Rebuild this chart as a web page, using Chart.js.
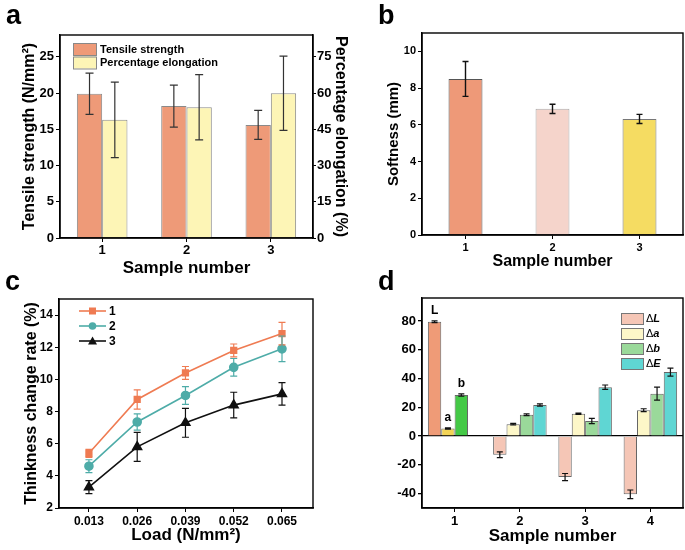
<!DOCTYPE html>
<html>
<head>
<meta charset="utf-8">
<script src="https://cdn.jsdelivr.net/npm/chart.js@4.4.1/dist/chart.umd.min.js"></script>
<style>
  html, body { margin:0; padding:0; background:#fff; }
  #wrap { position:relative; width:685px; height:550px; overflow:hidden; background:#fff; }
  #wrap canvas { position:absolute; left:0; top:0; }
  .letter { position:absolute; font:bold 27px Arial, "Liberation Sans", sans-serif; color:#000; line-height:1; }
</style>
</head>
<body>
<div id="wrap">
  <canvas id="ca" width="685" height="550"></canvas>
  <canvas id="cb" width="685" height="550"></canvas>
  <canvas id="cc" width="685" height="550"></canvas>
  <canvas id="cd" width="685" height="550"></canvas>
  <div class="letter" style="left:6px;top:2px;">a</div>
  <div class="letter" style="left:378px;top:2px;">b</div>
  <div class="letter" style="left:5px;top:268px;">c</div>
  <div class="letter" style="left:378px;top:268px;">d</div>
</div>
<script>
// ---------- DATA ----------
// Panel a
const samplesA = ['1', '2', '3'];
const tensile = [19.9, 18.2, 15.6];
const tensileErr = [2.85, 2.9, 2.0];
const elongation = [48.9, 54.1, 59.9];
const elongationErr = [15.6, 13.5, 15.4];
const ticksA = [0, 5, 10, 15, 20, 25];
const ticksA2 = [0, 15, 30, 45, 60, 75];

// Panel b
const samplesB = ['1', '2', '3'];
const softness = [8.5, 6.87, 6.32];
const softnessErr = [0.95, 0.25, 0.25];
const ticksB = [0, 2, 4, 6, 8, 10];

// Panel c
const loads = [0.013, 0.026, 0.039, 0.052, 0.065];
const thick1 = [5.4, 8.75, 10.4, 11.8, 12.85];
const thick1Err = [0.25, 0.6, 0.4, 0.4, 0.7];
const thick2 = [4.6, 7.35, 9.0, 10.75, 11.9];
const thick2Err = [0.4, 0.5, 0.55, 0.55, 0.8];
const thick3 = [3.3, 5.8, 7.3, 8.4, 9.1];
const thick3Err = [0.4, 0.9, 0.9, 0.8, 0.7];
const ticksC = [2, 4, 6, 8, 10, 12, 14];

// Panel d
const samplesD = ['1', '2', '3', '4'];
const dL = [79.5, -13, -28.5, -40.5];
const dLErr = [0.6, 2, 2.5, 3];
const dA = [5.3, 8.3, 15.5, 18];
const dAErr = [0.4, 0.5, 0.4, 1];
const dB = [28.5, 14.8, 10.5, 29.5];
const dBErr = [0.8, 0.6, 1.8, 4.5];
const dE = [null, 21.6, 34, 44.5];
const dEErr = [0, 0.8, 1.5, 2.8];
const group1Labels = ['L', 'a', 'b'];
const ticksD = [-40, -20, 0, 20, 40, 60, 80];

// ---------- HELPERS ----------
const FONT = 'Arial, "Liberation Sans", sans-serif';
Chart.defaults.font.family = FONT;
Chart.defaults.color = '#000';
Chart.defaults.animation = false;

function fixedTicks(arr) {
  return function (scale) { scale.ticks = arr.map(v => ({ value: v })); };
}
function fixW(w) { return function (scale) { scale.width = w; }; }
function fixH(h) { return function (scale) { scale.height = h; }; }

const framePlugin = {
  id: 'frame',
  afterDraw(chart) {
    const a = chart.chartArea, c = chart.ctx;
    c.save();
    c.strokeStyle = '#000';
    c.lineWidth = 1.4;
    c.strokeRect(a.left, a.top, a.right - a.left, a.bottom - a.top);
    c.restore();
  }
};

const errorBarPlugin = {
  id: 'errorBars',
  afterDatasetsDraw(chart) {
    const c = chart.ctx;
    chart.data.datasets.forEach((ds, di) => {
      if (!ds.errors) return;
      const meta = chart.getDatasetMeta(di);
      const ys = chart.scales[meta.yAxisID];
      const cap = ds.capHalf || 3.5;
      c.save();
      c.strokeStyle = ds.errorColor || '#222';
      c.lineWidth = ds.errorWidth || 1.2;
      meta.data.forEach((el, i) => {
        let v = ds.data[i];
        if (v !== null && typeof v === 'object') v = v.y;
        if (v === null || v === undefined) return;
        const e = ds.errors[i] || 0;
        const x = el.x;
        const yt = ys.getPixelForValue(v + e);
        const yb = ys.getPixelForValue(v - e);
        c.beginPath();
        c.moveTo(x, yt); c.lineTo(x, yb);
        c.moveTo(x - cap, yt); c.lineTo(x + cap, yt);
        c.moveTo(x - cap, yb); c.lineTo(x + cap, yb);
        c.stroke();
      });
      c.restore();
    });
  }
};

function tickFont(size) { return { family: FONT, size: size, weight: 'bold' }; }
function titleFont(size) { return { family: FONT, size: size, weight: 'bold', lineHeight: 1 }; }

// ---------- PANEL A ----------
const legendA = {
  id: 'legendA',
  afterDraw(chart) {
    const c = chart.ctx;
    const rows = chart.data.datasets;
    c.save();
    c.font = 'bold 11px ' + FONT;
    c.textBaseline = 'middle';
    rows.forEach((ds, i) => {
      const y = 43 + i * 13.5;
      c.fillStyle = ds.backgroundColor;
      c.fillRect(73, y, 23, 12);
      c.strokeStyle = '#888';
      c.lineWidth = 1;
      c.strokeRect(73.5, y + 0.5, 23, 12);
      c.fillStyle = '#000';
      c.fillText(ds.label, 100, y + 6.5);
    });
    c.restore();
  }
};

new Chart(document.getElementById('ca'), {
  type: 'bar',
  data: {
    labels: samplesA,
    datasets: [
      { label: 'Tensile strength', data: tensile, errors: tensileErr, yAxisID: 'y',
        backgroundColor: '#ee9a78', borderColor: '#8a8a8a', borderWidth: 1, errorColor: '#333', capHalf: 4 },
      { label: 'Percentage elongation', data: elongation, errors: elongationErr, yAxisID: 'y1',
        backgroundColor: '#fdf5b6', borderColor: '#8a8a8a', borderWidth: 1, errorColor: '#333', capHalf: 4 }
    ]
  },
  options: {
    responsive: false,
    layout: { padding: { left: 0, top: 35, right: 336, bottom: 273 } },
    plugins: { legend: { display: false }, tooltip: { enabled: false } },
    datasets: { bar: { categoryPercentage: 0.6, barPercentage: 1.0 } },
    scales: {
      x: {
        afterFit: fixH(39),
        offset: true,
        grid: { display: true, drawOnChartArea: false, offset: false, tickLength: 4, color: '#000' },
        border: { color: '#000', width: 1.4 },
        ticks: { font: tickFont(13), padding: 1 },
        title: { display: true, text: 'Sample number', font: titleFont(17), padding: { top: 0, bottom: 0.5 } }
      },
      y: {
        position: 'left', min: 0, max: 28,
        afterFit: fixW(60), afterBuildTicks: fixedTicks(ticksA),
        grid: { display: true, drawOnChartArea: false, tickLength: 4, color: '#000' },
        border: { color: '#000', width: 1.4 },
        ticks: { font: tickFont(13), padding: 2 },
        title: { display: true, text: 'Tensile strength (N/mm²)', font: titleFont(16), padding: { top: 22, bottom: 0 } }
      },
      y1: {
        position: 'right', min: 0, max: 84,
        afterFit: fixW(36), afterBuildTicks: fixedTicks(ticksA2),
        grid: { display: true, drawOnChartArea: false, tickLength: 3, color: '#000' },
        border: { color: '#000', width: 1.4 },
        ticks: { font: tickFont(13), padding: 1 },
        title: { display: true, text: 'Percentage elongation (%)', font: titleFont(16), padding: { top: 1, bottom: 0 } }
      }
    }
  },
  plugins: [errorBarPlugin, framePlugin, legendA]
});

// ---------- PANEL B ----------
new Chart(document.getElementById('cb'), {
  type: 'bar',
  data: {
    labels: samplesB,
    datasets: [
      { label: 'Softness', data: softness, errors: softnessErr,
        backgroundColor: ['#ee9978', '#f5d4cb', '#f5dc62'],
        borderColor: ['#555', '#aaa', '#777'], borderWidth: 1, errorColor: '#111', capHalf: 3, errorWidth: 1.4 }
    ]
  },
  options: {
    responsive: false,
    layout: { padding: { left: 345, top: 33, right: 2, bottom: 273 } },
    plugins: { legend: { display: false }, tooltip: { enabled: false } },
    datasets: { bar: { categoryPercentage: 0.39, barPercentage: 1.0 } },
    scales: {
      x: {
        afterFit: fixH(42),
        grid: { display: true, drawOnChartArea: false, offset: false, tickLength: 4, color: '#000' },
        border: { color: '#000', width: 1.4 },
        ticks: { font: tickFont(11), padding: 2 },
        title: { display: true, text: 'Sample number', font: titleFont(16), padding: { top: 0, bottom: 7 } }
      },
      y: {
        min: 0, max: 11,
        afterFit: fixW(77), afterBuildTicks: fixedTicks(ticksB),
        grid: { display: true, drawOnChartArea: false, tickLength: 4, color: '#000' },
        border: { color: '#000', width: 1.4 },
        ticks: { font: tickFont(11), padding: 2 },
        title: { display: true, text: 'Softness (mm)', font: titleFont(15), padding: { top: 41.5, bottom: 0 } }
      }
    }
  },
  plugins: [errorBarPlugin, framePlugin]
});

// ---------- PANEL C ----------
function pts(ys) { return loads.map((x, i) => ({ x: x, y: ys[i] })); }
const legendC = {
  id: 'legendC',
  afterDraw(chart) {
    const c = chart.ctx;
    c.save();
    c.font = 'bold 12px ' + FONT;
    c.textBaseline = 'middle';
    chart.data.datasets.forEach((ds, i) => {
      const y = 311 + i * 15;
      c.strokeStyle = ds.borderColor;
      c.lineWidth = 1.6;
      c.beginPath(); c.moveTo(79, y); c.lineTo(106, y); c.stroke();
      c.fillStyle = ds.borderColor;
      const cx = 92.5;
      c.beginPath();
      if (ds.pointStyle === 'rect') { c.rect(cx - 3.5, y - 3.5, 7, 7); }
      else if (ds.pointStyle === 'circle') { c.arc(cx, y, 3.8, 0, Math.PI * 2); }
      else { c.moveTo(cx, y - 4.5); c.lineTo(cx + 4.5, y + 3.5); c.lineTo(cx - 4.5, y + 3.5); c.closePath(); }
      c.fill();
      c.fillStyle = '#000';
      c.fillText(ds.label, 109, y + 1);
    });
    c.restore();
  }
};

new Chart(document.getElementById('cc'), {
  type: 'line',
  data: {
    datasets: [
      { label: '1', data: pts(thick1), errors: thick1Err, borderColor: '#ef7b52', backgroundColor: '#ef7b52',
        pointStyle: 'rect', pointRadius: 4, borderWidth: 1.6, errorColor: '#ef7b52', capHalf: 3.5 },
      { label: '2', data: pts(thick2), errors: thick2Err, borderColor: '#4eaca8', backgroundColor: '#4eaca8',
        pointStyle: 'circle', pointRadius: 4, borderWidth: 1.6, errorColor: '#4eaca8', capHalf: 3.5 },
      { label: '3', data: pts(thick3), errors: thick3Err, borderColor: '#111', backgroundColor: '#111',
        pointStyle: 'triangle', pointRadius: 5, borderWidth: 1.6, errorColor: '#111', capHalf: 3.5 }
    ]
  },
  options: {
    responsive: false,
    layout: { padding: { left: 0, top: 299, right: 372, bottom: 5 } },
    plugins: { legend: { display: false }, tooltip: { enabled: false } },
    scales: {
      x: {
        type: 'linear', min: 0.00494, max: 0.07335,
        afterFit: fixH(37), afterBuildTicks: fixedTicks(loads),
        grid: { display: true, drawOnChartArea: false, tickLength: 4, color: '#000' },
        border: { color: '#000', width: 1.4 },
        ticks: { font: tickFont(12), padding: 2, callback: v => v.toFixed(3) },
        title: { display: true, text: 'Load (N/mm²)', font: titleFont(17), padding: { top: 0, bottom: 1.5 } }
      },
      y: {
        min: 2, max: 15,
        afterFit: fixW(59), afterBuildTicks: fixedTicks(ticksC),
        grid: { display: true, drawOnChartArea: false, tickLength: 4, color: '#000' },
        border: { color: '#000', width: 1.4 },
        ticks: { font: tickFont(12), padding: 2 },
        title: { display: true, text: 'Thinkness change rate (%)', font: titleFont(16), padding: { top: 24, bottom: 0 } }
      }
    }
  },
  plugins: [errorBarPlugin, framePlugin, legendC]
});

// ---------- PANEL D ----------
const legendD = {
  id: 'legendD',
  afterDraw(chart) {
    const c = chart.ctx;
    c.save();
    c.textBaseline = 'middle';
    chart.data.datasets.forEach((ds, i) => {
      const y = 313 + i * 15;
      c.fillStyle = ds.legendColor;
      c.fillRect(621, y, 22, 11);
      c.strokeStyle = '#777';
      c.lineWidth = 1;
      c.strokeRect(621.5, y + 0.5, 22, 11);
      c.fillStyle = '#000';
      c.font = '11px ' + FONT;
      const sym = ds.label.charAt(0);
      c.fillText(sym, 646, y + 6);
      const w = c.measureText(sym).width;
      c.font = 'italic bold 11px ' + FONT;
      c.fillText(ds.label.slice(1), 646 + w, y + 6);
    });
    c.restore();
  }
};
const group1LabelPlugin = {
  id: 'group1Labels',
  afterDatasetsDraw(chart) {
    const c = chart.ctx;
    const ys = chart.scales.y;
    c.save();
    c.font = 'bold 12px ' + FONT;
    c.textAlign = 'center';
    c.textBaseline = 'bottom';
    c.fillStyle = '#000';
    group1Labels.forEach((lab, di) => {
      const ds = chart.data.datasets[di];
      const el = chart.getDatasetMeta(di).data[0];
      const top = ys.getPixelForValue(ds.data[0] + (ds.errors[0] || 0));
      c.fillText(lab, el.x, top - 4);
    });
    c.restore();
  }
};

const dAll = [
  { label: 'ΔL', data: dL, errors: dLErr, legendColor: '#f5c6b6', colors: ['#ef9b77', '#f5c6b6', '#f5c6b6', '#f5c6b6'] },
  { label: 'Δa', data: dA, errors: dAErr, legendColor: '#fdf7c8', colors: ['#f3d456', '#fdf7c8', '#fdf7c8', '#fdf7c8'] },
  { label: 'Δb', data: dB, errors: dBErr, legendColor: '#9ad99a', colors: ['#44c946', '#9ad99a', '#9ad99a', '#9ad99a'] },
  { label: 'ΔE', data: dE, errors: dEErr, legendColor: '#5fd6d3', colors: ['#5fd6d3', '#5fd6d3', '#5fd6d3', '#5fd6d3'] }
];

new Chart(document.getElementById('cd'), {
  type: 'bar',
  data: {
    labels: samplesD,
    datasets: dAll.map(d => ({
      label: d.label, data: d.data, errors: d.errors, legendColor: d.legendColor,
      backgroundColor: d.colors, borderColor: '#666', borderWidth: 1, errorColor: '#111', capHalf: 3, errorWidth: 1.2
    }))
  },
  options: {
    responsive: false,
    layout: { padding: { left: 345, top: 298, right: 2, bottom: 5 } },
    plugins: { legend: { display: false }, tooltip: { enabled: false } },
    datasets: { bar: { categoryPercentage: 0.82, barPercentage: 1.0 } },
    scales: {
      x: {
        afterFit: fixH(37),
        grid: { display: true, drawOnChartArea: false, offset: false, tickLength: 4, color: '#000' },
        border: { color: '#000', width: 1.4 },
        ticks: { font: tickFont(13), padding: 2 },
        title: { display: true, text: 'Sample number', font: titleFont(17), padding: { top: 0, bottom: 0 } }
      },
      y: {
        min: -50, max: 96,
        afterFit: fixW(77), afterBuildTicks: fixedTicks(ticksD),
        grid: { display: true, drawOnChartArea: true, tickLength: 4,
                color: ctx => (ctx.tick && ctx.tick.value === 0) ? '#000' : 'rgba(0,0,0,0)',
                tickColor: '#000', lineWidth: 1.3 },
        border: { color: '#000', width: 1.4 },
        ticks: { font: tickFont(13), padding: 2 }
      }
    }
  },
  plugins: [errorBarPlugin, framePlugin, legendD, group1LabelPlugin]
});
</script>
</body>
</html>
